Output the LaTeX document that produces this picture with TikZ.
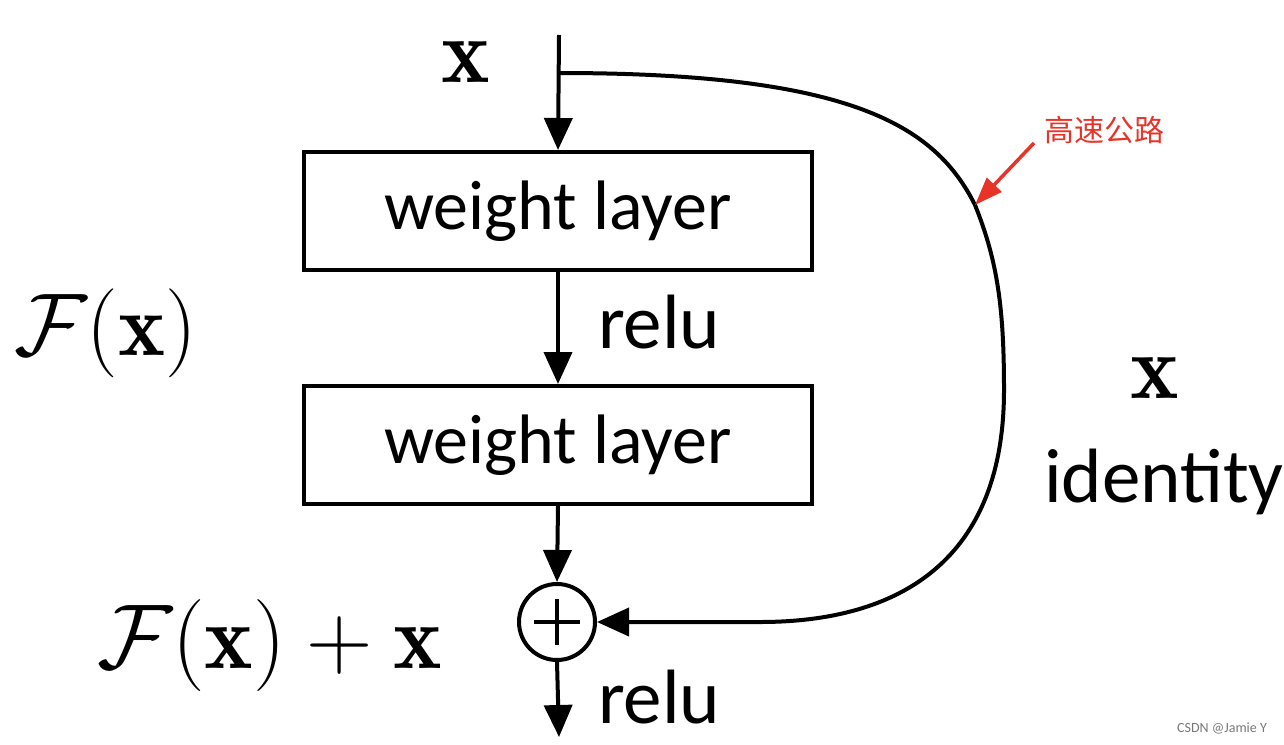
\RequirePackage{fix-cm}
\documentclass[tikz,border=0pt]{standalone}
\usepackage{fontspec}
\setsansfont{Carlito}
\newfontfamily\cjk{Noto Sans CJK SC}
\usetikzlibrary{arrows.meta}
\definecolor{redmark}{RGB}{232,52,40}
\definecolor{wmark}{RGB}{120,120,120}
\begin{document}
\begin{tikzpicture}[x=1pt,y=-1pt,
  line width=4pt,
  tip/.style={-{Triangle[length=32pt,width=28pt]}},
  layerbox/.style={draw,line width=4pt,minimum width=508pt,minimum height=118pt,inner sep=0pt,
     font=\sffamily\fontsize{70}{74}\selectfont},
  lbl/.style={font=\sffamily\fontsize{77}{80}\selectfont,inner sep=0pt},
  mth/.style={font=\fontsize{92}{96}\selectfont,inner sep=0pt}]
\useasboundingbox (0,0) rectangle (1284,744);
\node[layerbox] (w1) at (558,211) {weight layer};
\node[layerbox] (w2) at (558,445) {weight layer};
\node[draw,circle,line width=4pt,minimum size=76pt,inner sep=0pt] (sum) at (557,622) {};
\draw[line width=4pt] ([xshift=-23pt]sum.center) -- ([xshift=23pt]sum.center)
  ([yshift=-23pt]sum.center) -- ([yshift=23pt]sum.center);
\coordinate (top) at (559,35);
\coordinate (split) at (559,73);
\coordinate (out) at (559,737);
\draw[tip] (top) -- (w1.north);
\draw[tip] (w1.south) -- (w2.north);
\draw[tip] (w2.south) -- (sum.north);
\draw[tip] (sum.south) -- (out);
\coordinate (c1) at (975,205);
\coordinate (c2) at (1004,390);
\draw[tip] (split) .. controls (850,73) and (935,125) .. (c1)
  .. controls (998,262) and (1004,310) .. (c2)
  .. controls (1004,560) and (900,622) .. (760,622) -- (sum.east);
\node[mth] (xin) at (466,62) {$\mathbf{x}$};
\node[lbl,anchor=west] (r1) at (596,322) {relu};
\node[lbl,anchor=west] (r2) at (596,697) {relu};
\node[mth,anchor=west,font=\fontsize{89}{94}\selectfont] (fx) at (12,333) {$\mathcal{F}(\mathbf{x})$};
\node[mth,anchor=west] (fxx) at (95,645) {$\mathcal{F}(\mathbf{x})+\mathbf{x}$};
\node[mth] (xid) at (1155,378) {$\mathbf{x}$};
\node[lbl,anchor=west] (idl) at (1042,482) {identity};
\node[font=\cjk\fontsize{30}{32}\selectfont,text=redmark,inner sep=0pt] (hw) at (1104,130) {高速公路};
\coordinate (rt) at (1034,143);
\draw[redmark,line width=3.5pt,-{Triangle[length=28pt,width=20pt]}] (rt) -- (c1);
\node[font=\sffamily\fontsize{14}{16}\selectfont,text=wmark,inner sep=0pt] (wm) at (1222,728) {CSDN @Jamie Y};
\end{tikzpicture}
\end{document}
